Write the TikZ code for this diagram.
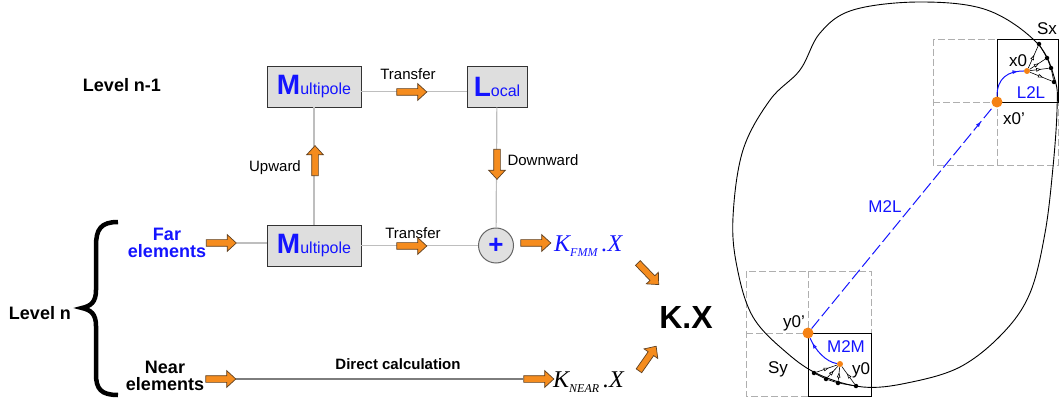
\documentclass[tikz,border=0pt]{standalone}
\usepackage{fontspec}
\setmainfont{Liberation Sans}
\newfontfamily\timesfont{Liberation Serif}
\usetikzlibrary{arrows.meta,shapes.arrows,decorations.markings}

\definecolor{arroworange}{RGB}{245,140,30}
\definecolor{arrowedge}{RGB}{95,65,35}
\definecolor{boxgrey}{RGB}{222,222,222}
\definecolor{linegrey}{RGB}{190,190,190}
\definecolor{neargrey}{RGB}{125,125,125}
\definecolor{gridgrey}{RGB}{175,175,175}
\definecolor{textblue}{RGB}{20,20,255}
\definecolor{dotorange}{RGB}{245,130,20}

\newcommand{\setsize}[1]{\fontsize{#1}{#1}\selectfont}

\begin{document}
\begin{tikzpicture}[x=1pt,y=-1pt,
    fmmbox/.style={draw=black!80,fill=boxgrey,line width=0.8pt,minimum height=41pt,inner sep=0pt,text=textblue},
    greyline/.style={draw=linegrey,line width=1.2pt},
    orangearrow/.style={single arrow,draw=arrowedge,fill=arroworange,line width=0.7pt,
        minimum height=30pt,inner sep=3pt,single arrow head extend=5pt,single arrow tip angle=85},
    midarrow/.style={postaction={decorate},decoration={markings,
        mark=at position #1 with {\arrow{Triangle[fill=white,length=5pt,width=3.5pt]}}}},
    bigdot/.style={circle,fill=dotorange,inner sep=0pt,minimum size=11pt},
    smalldot/.style={circle,fill=dotorange,inner sep=0pt,minimum size=6pt},
    elemdot/.style={circle,fill=black,inner sep=0pt,minimum size=4.5pt}]
  \useasboundingbox (0,0) rectangle (1062,403);

  % blocks
  \node[fmmbox,minimum width=94pt] (mpup) at (314,86.5) {{\setsize{28}\bfseries M}{\setsize{16}ultipole}};
  \node[fmmbox,minimum width=60pt] (local) at (497,86.5) {{\setsize{28}\bfseries L}{\setsize{16}ocal}};
  \node[fmmbox,minimum width=94pt] (mpfar) at (314,245.5) {{\setsize{28}\bfseries M}{\setsize{16}ultipole}};
  \node[circle,draw=black!60,fill=black!12,line width=1pt,minimum size=35pt,inner sep=0pt,text=textblue]
    (sum) at (496,245.5) {\setsize{26}\bfseries +};

  % texts
  \begin{scope}[every node/.style={inner sep=0pt}]
    \node (leveltop) at (122,85) {\setsize{18}\bfseries Level n-1};
    \node (levelbot) at (40,313) {\setsize{18}\bfseries Level n};
    \node[align=center,text=textblue] (far) at (167,243) {\setsize{18}\bfseries Far\\[3pt]\setsize{18}\bfseries elements};
    \node[align=center] (near) at (165,376) {\setsize{18}\bfseries Near\\[3pt]\setsize{18}\bfseries elements};
    \node (transtop) at (408,74) {\setsize{15}Transfer};
    \node (transbot) at (413,233) {\setsize{15}Transfer};
    \node (upward) at (275,168) {\setsize{15}Upward};
    \node (downward) at (543,160) {\setsize{15}Downward};
    \node (direct) at (398,364) {\setsize{15}\bfseries Direct calculation};
    \node[anchor=west,text=textblue] (kfmm) at (554,246)
      {\timesfont\itshape\setsize{24}K\raisebox{-5pt}{\setsize{12}FMM}\,\setsize{24}.X};
    \node[anchor=west] (knear) at (553,382)
      {\timesfont\itshape\setsize{24}K\raisebox{-5pt}{\setsize{12}NEAR}\,\setsize{24}.X};
    \node (kx) at (686,317) {\setsize{32}\bfseries K.X};
  \end{scope}

  % brace
  \draw[line width=4.5pt] (118,222) .. controls (101,222) and (96,229) .. (96,246) -- (96,290)
    .. controls (96,302) and (91,306) .. (82,308) .. controls (91,310) and (96,314) .. (96,326)
    -- (96,374) .. controls (96,389) and (101,395) .. (118,395);

  % arrows off the lines
  \begin{scope}[every node/.style={orangearrow}]
    \node (farin) at (219.5,243) {};
    \node (nearin) at (219,379) {};
    \node (fmmout) at (534,243) {};
    \node (nearout) at (537,379) {};
    \node[rotate=-46] (tokxa) at (647,272.5) {};
    \node[rotate=55] (tokxb) at (646.5,360) {};
  \end{scope}

  % connectors
  \draw[greyline] ([yshift=-5pt]mpup.east) -- ([yshift=-5pt]local.west);
  \draw[greyline] (mpfar) -- (mpup);
  \draw[greyline] (local) -- (sum);
  \draw[greyline] (mpfar) -- (sum);
  \draw[greyline] (farin.east) -- (farin.east -| mpfar.west);
  \draw[draw=neargrey,line width=1.6pt] (nearin.east) -- (nearout.west);

  % arrows on the lines
  \begin{scope}[every node/.style={orangearrow}]
    \node (transtoparrow) at (410,92) {};
    \node (transbotarrow) at (410,246) {};
    \node[rotate=90] (uparrow) at (315,162.5) {};
    \node[rotate=-90] (downarrow) at (497,162.5) {};
  \end{scope}

  % domain with two clusters
  \begin{scope}[gridgrey,line width=0.9pt,dash pattern=on 7pt off 3pt]
    \draw (933,39) rectangle (1058,165);
    \draw (997,39) -- (997,165);
    \draw (933,102) -- (1058,102);
    \draw (746,271) rectangle (871,396);
    \draw (808,271) -- (808,396);
    \draw (746,333) -- (871,333);
  \end{scope}
  \draw[line width=0.8pt] (997,39) rectangle (1058,102);
  \draw[line width=0.8pt] (808,333) rectangle (871,396);
  \draw[line width=0.9pt] plot[smooth cycle,tension=0.6] coordinates {(920,2) (987,10) (1037,43) (1055,80)
    (1057,110) (1053,167) (1045,233) (1030,293) (1003,333) (960,367) (907,383) (863,387) (820,375)
    (787,353) (753,317) (737,267) (733,217) (743,150) (770,100) (800,70) (820,33) (853,10)};

  \node[elemdot] (sxa) at (1039,44) {};
  \node[elemdot] (sxb) at (1047,58) {};
  \node[elemdot] (sxc) at (1051,68) {};
  \node[elemdot] (sxd) at (1054,82) {};
  \node[elemdot] (sya) at (814,373) {};
  \node[elemdot] (syb) at (826,379) {};
  \node[elemdot] (syc) at (838,383) {};
  \node[elemdot] (syd) at (856,386) {};
  \node[smalldot] (x0) at (1027,71) {};
  \node[smalldot] (y0) at (840,364) {};
  \node[bigdot] (x0p) at (997,102) {};
  \node[bigdot] (y0p) at (808,333) {};

  \draw[line width=0.7pt] (sxa) -- (sxb) -- (sxc) -- (sxd);
  \draw[line width=0.7pt] (sya) -- (syb) -- (syc) -- (syd);
  \foreach \e in {sxa,sxb,sxc,sxd}
    \draw[line width=0.6pt,midarrow=0.6] (x0) -- (\e);
  \foreach \e in {sya,syb,syc,syd}
    \draw[line width=0.6pt,midarrow=0.6] (\e) -- (y0);

  \draw[textblue,line width=1pt,dash pattern=on 12pt off 4pt,midarrow=0.93] (y0p) -- (x0p);
  \draw[textblue,line width=1pt,midarrow=0.85] (x0p) .. controls (997,78) and (1008,71) .. (x0);
  \draw[textblue,line width=1pt,midarrow=0.85] (y0) .. controls (826,362) and (815,350) .. (y0p);

  \begin{scope}[every node/.style={inner sep=0pt}]
    \node (sxlabel) at (1047,29) {\setsize{17}Sx};
    \node (x0label) at (1018,61) {\setsize{17}x0};
    \node[text=textblue] (l2l) at (1031,93) {\setsize{17}L2L};
    \node (x0plabel) at (1014,119) {\setsize{17}x0'};
    \node[text=textblue] (m2l) at (885,207) {\setsize{17}M2L};
    \node (y0plabel) at (794,323) {\setsize{17}y0'};
    \node[text=textblue] (m2m) at (846,347) {\setsize{17}M2M};
    \node (y0label) at (861,370) {\setsize{17}y0};
    \node (sylabel) at (778,369) {\setsize{17}Sy};
  \end{scope}
\end{tikzpicture}
\end{document}
